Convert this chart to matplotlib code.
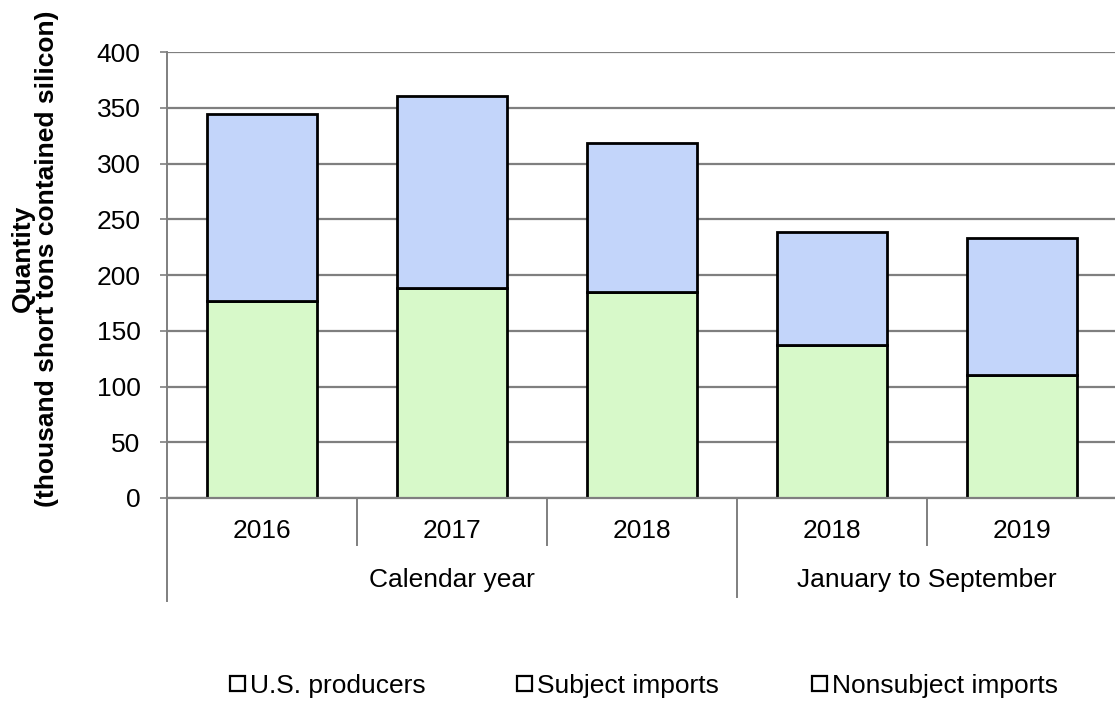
import matplotlib.pyplot as plt
from matplotlib.patches import Patch
import numpy as np

plt.rcParams['font.family'] = ['Liberation Sans', 'DejaVu Sans']

years = ['2016', '2017', '2018', '2018', '2019']
groups = ['Calendar year', 'January to September']
group_sizes = [3, 2]
us_producers = [177, 188, 185, 137, 110]
subject_imports = [167, 173, 133, 102, 123]
legend_labels = ['U.S. producers', 'Subject imports', 'Nonsubject imports']

green = '#d7f9c9'
blue = '#c3d5fa'
grid_c = '#7f7f7f'
fs = 19

fig = plt.figure(figsize=(11.15, 7.02), dpi=100)
ax = fig.add_axes([0.1498, 0.2906, 0.852, 0.6353])

x = np.arange(len(years))
w = 0.58
ax.bar(x, us_producers, w, color=green, edgecolor='black', linewidth=2, zorder=3)
ax.bar(x, subject_imports, w, bottom=us_producers, color=blue, edgecolor='black',
       linewidth=2, zorder=3)

ax.set_xlim(-0.5, len(years) - 0.5)
ax.set_ylim(0, 400)
ax.set_yticks(np.arange(0, 401, 50))
ax.yaxis.grid(True, color=grid_c, linewidth=1.6, zorder=0)
ax.set_axisbelow(True)
ax.tick_params(axis='y', labelsize=fs, length=5, width=1.2, color=grid_c, pad=14)
ax.set_xticks([])
for s in ['top', 'right', 'bottom']:
    ax.spines[s].set_visible(False)
ax.spines['left'].set_color(grid_c)
ax.spines['left'].set_linewidth(1.4)

# bottom axis line and category separators below the plot
trans = ax.get_xaxis_transform()
ax.plot([-0.5, len(years) - 0.5], [0, 0], color=grid_c, lw=1.6, transform=trans,
        clip_on=False, zorder=4)
ax.plot([-0.5, -0.5], [0, -0.23], color=grid_c, lw=1.4, transform=trans, clip_on=False)
edges = np.cumsum(group_sizes) - 0.5
for b in np.arange(0.5, len(years) - 0.5, 1):
    depth = -0.222 if np.any(np.isclose(edges, b)) else -0.105
    ax.plot([b, b], [0, depth], color=grid_c, lw=1.4, transform=trans, clip_on=False)

for xi, lab in zip(x, years):
    ax.annotate(lab, (xi, 0), xycoords=trans, xytext=(0, -33), textcoords='offset pixels',
                ha='center', va='center', fontsize=fs)
start = 0
for g, n in zip(groups, group_sizes):
    mid = start + (n - 1) / 2
    ax.annotate(g, (mid, 0), xycoords=trans, xytext=(0, -82), textcoords='offset pixels',
                ha='center', va='center', fontsize=fs)
    start += n

fig.text(0.031, 0.632, 'Quantity\n(thousand short tons contained silicon)', rotation=90,
         ha='center', va='center', fontsize=fs, fontweight='bold', linespacing=1.0)

# legend entries, each placed on its own
for lab, xpos in zip(legend_labels, [0.2063, 0.4637, 0.7283]):
    h = Patch(facecolor='white', edgecolor='black', linewidth=1.6, label=lab)
    fig.legend(handles=[h], loc='center left', bbox_to_anchor=(xpos, 0.023),
               frameon=False, fontsize=fs, handlelength=0.55, handleheight=0.55,
               handletextpad=0.2, borderpad=0, borderaxespad=0)

fig.savefig('out.png', dpi=100)
